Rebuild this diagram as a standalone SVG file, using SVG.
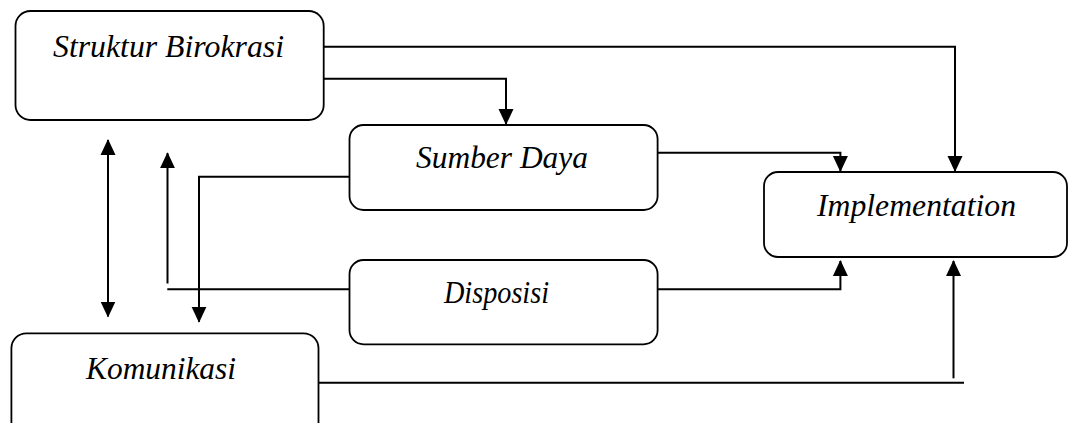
<svg xmlns="http://www.w3.org/2000/svg" width="1069" height="423" viewBox="0 0 1069 423">
  <style>
    .box { fill: #ffffff; stroke: #000000; stroke-width: 1.8; }
    .lbl { font-family: "Liberation Serif", "Times New Roman", serif; font-style: italic; font-size: 31px; fill: #000000; }
    .conn { fill: none; stroke: #000000; stroke-width: 2; }
  </style>
  <defs>
    <marker id="arr" markerUnits="userSpaceOnUse" markerWidth="16" markerHeight="16" viewBox="0 0 16 16" refX="15" refY="8" orient="auto-start-reverse">
      <path d="M0,0.5 L16,8 L0,15.5 Z" fill="#000000"/>
    </marker>
  </defs>
  <rect width="1069" height="423" fill="#ffffff"/>

  <g id="connectors">
    <path class="conn" d="M323.7,46.7 H955 V171" marker-end="url(#arr)"/>
    <path class="conn" d="M323.7,78.7 H506 V124" marker-end="url(#arr)"/>
    <path class="conn" d="M657.6,152.7 H840.4 V171" marker-end="url(#arr)"/>
    <path class="conn" d="M349.5,176.7 H199 V321.7" marker-end="url(#arr)"/>
    <path class="conn" d="M349.5,289.3 H167.3"/>
    <path class="conn" d="M167.5,283.5 V153.2" marker-end="url(#arr)"/>
    <path class="conn" d="M108,140 V316.5" marker-start="url(#arr)" marker-end="url(#arr)"/>
    <path class="conn" d="M657.6,289.3 H840.4 V261" marker-end="url(#arr)"/>
    <path class="conn" d="M318.5,382.7 H964"/>
    <path class="conn" d="M953.5,378.3 V261" marker-end="url(#arr)"/>
  </g>

  <g id="node-struktur">
    <rect class="box" x="15.5" y="11" width="308.2" height="109" rx="15"/>
    <text class="lbl" x="53" y="56.7" textLength="231" lengthAdjust="spacingAndGlyphs">Struktur Birokrasi</text>
  </g>
  <g id="node-sumber">
    <rect class="box" x="349.5" y="125" width="308.1" height="85" rx="14"/>
    <text class="lbl" x="416" y="168" textLength="172" lengthAdjust="spacingAndGlyphs">Sumber Daya</text>
  </g>
  <g id="node-disposisi">
    <rect class="box" x="349.5" y="260" width="308.1" height="84.3" rx="14"/>
    <text class="lbl" x="444" y="303" textLength="105" lengthAdjust="spacingAndGlyphs">Disposisi</text>
  </g>
  <g id="node-implementation">
    <rect class="box" x="764" y="172" width="303" height="85" rx="14"/>
    <text class="lbl" x="817" y="215.7" textLength="199" lengthAdjust="spacingAndGlyphs">Implementation</text>
  </g>
  <g id="node-komunikasi">
    <rect class="box" x="11.4" y="333.3" width="307.1" height="110" rx="15"/>
    <text class="lbl" x="86" y="379" textLength="150" lengthAdjust="spacingAndGlyphs">Komunikasi</text>
  </g>
</svg>
